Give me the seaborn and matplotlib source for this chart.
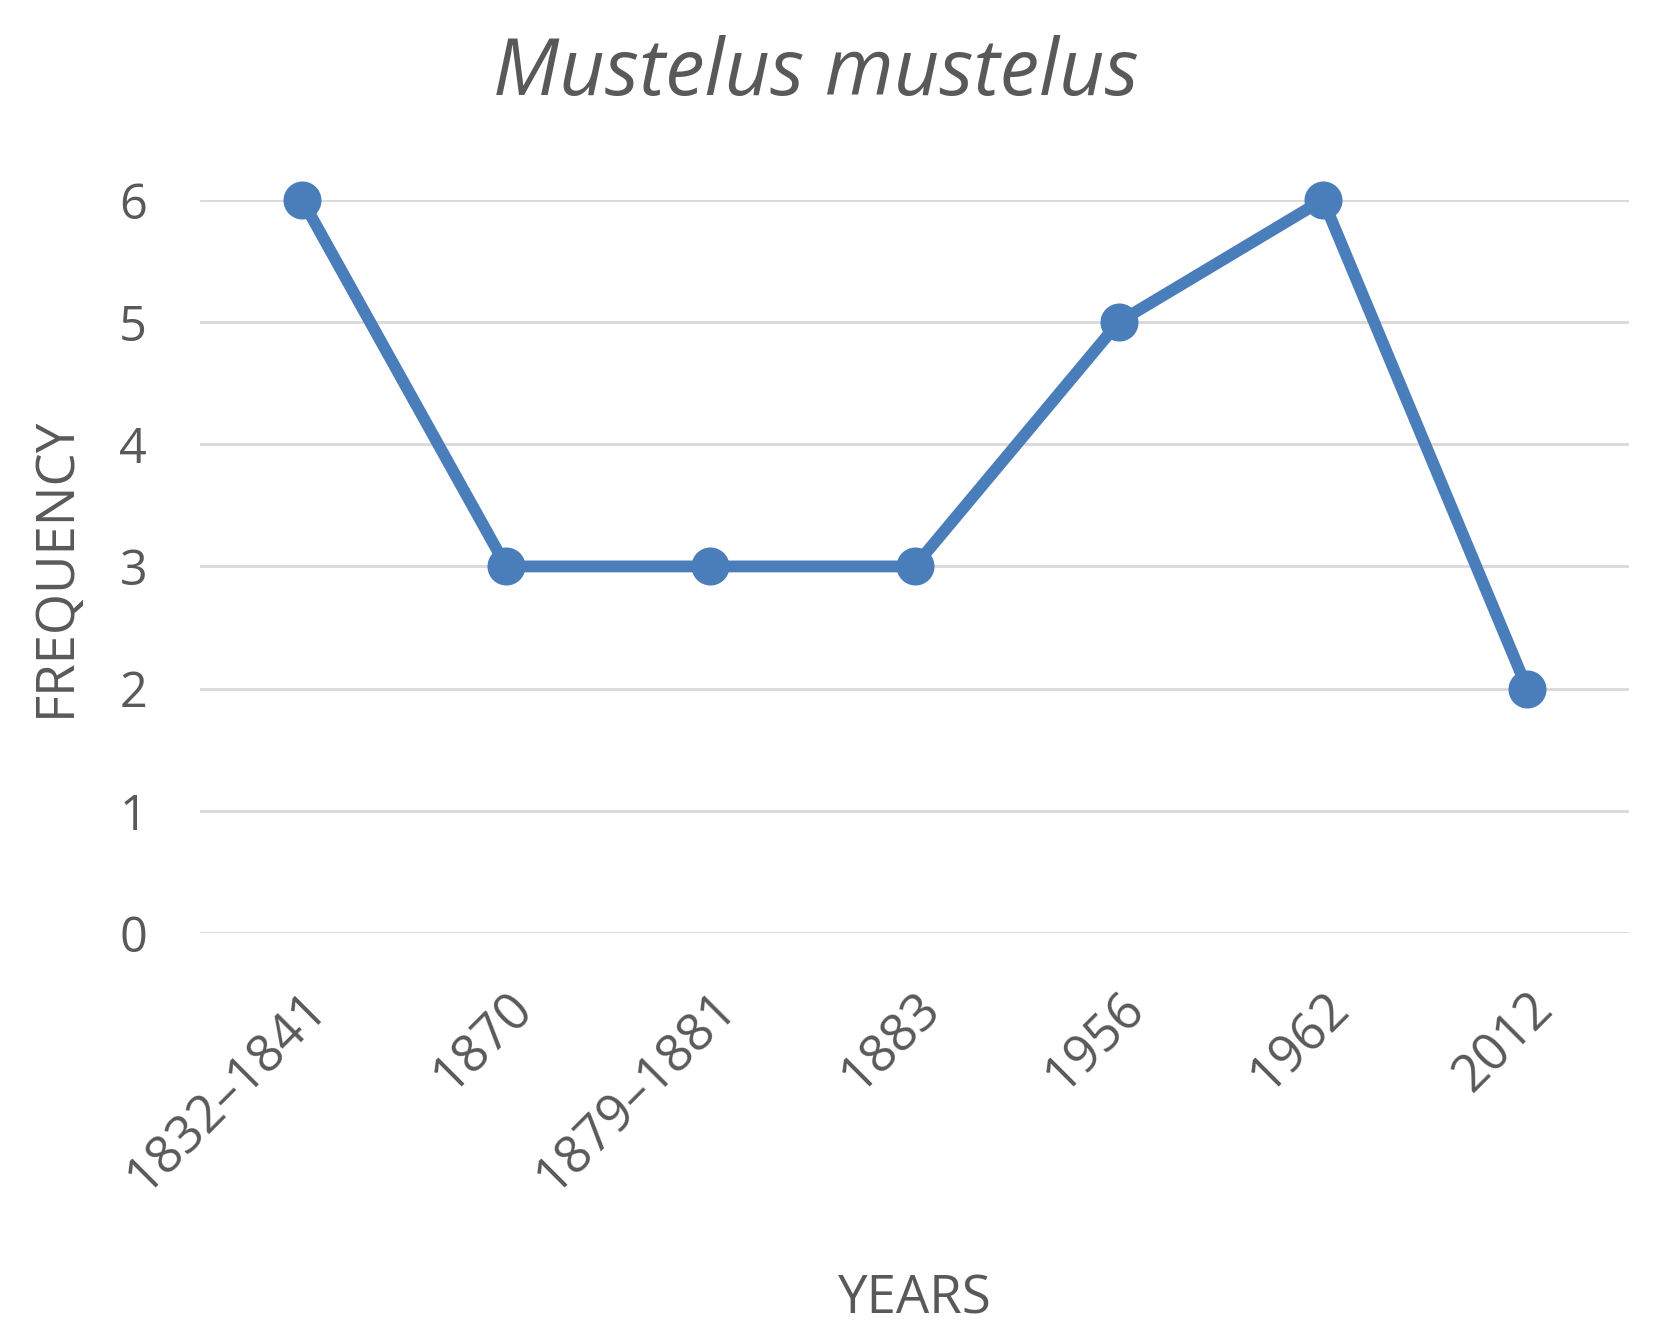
import matplotlib
matplotlib.use("Agg")
import matplotlib.pyplot as plt
import seaborn as sns
import pandas as pd

# data
years = ["1832\u20131841", "1870", "1879\u20131881", "1883", "1956", "1962", "2012"]
frequency = [6, 3, 3, 3, 5, 6, 2]

df = pd.DataFrame({"Years": years, "Frequency": frequency})

sns.set_style("white")
plt.rcParams["font.family"] = ["Open Sans", "DejaVu Sans"]

text_color = "#595959"
line_color = "#4A7EBB"

fig = plt.figure(figsize=(16.66, 13.32), dpi=100)
ax = fig.add_axes([0.12, 0.2995, 0.858, 0.5505])

sns.pointplot(data=df, x="Years", y="Frequency", color=line_color,
              markers="o", markersize=21, linewidth=8.5, ax=ax)
for coll in ax.collections + ax.lines:
    coll.set_clip_on(False)

ax.set_ylim(0, 6)
ax.set_xlim(-0.5, 6.5)
ax.set_yticks(range(0, 7))
ax.yaxis.grid(True, color="#D9D9D9", linewidth=2)
ax.set_axisbelow(True)
sns.despine(ax=ax, left=True, bottom=True, top=True, right=True)

ax.tick_params(axis="y", length=0, labelsize=35, labelcolor=text_color, pad=38)
ax.tick_params(axis="x", length=0, labelsize=37, labelcolor=text_color, pad=36)
plt.setp(ax.get_xticklabels(), rotation=45, ha="right", rotation_mode="anchor")

ax.set_xlabel("YEARS", fontsize=38, color=text_color, labelpad=50)
ax.set_ylabel("FREQUENCY", fontsize=38, color=text_color, labelpad=26)
fig.suptitle("Mustelus mustelus", x=0.49, y=0.944, va="center",
             fontsize=57, style="italic", color=text_color)

fig.savefig("out.png", dpi=100)
